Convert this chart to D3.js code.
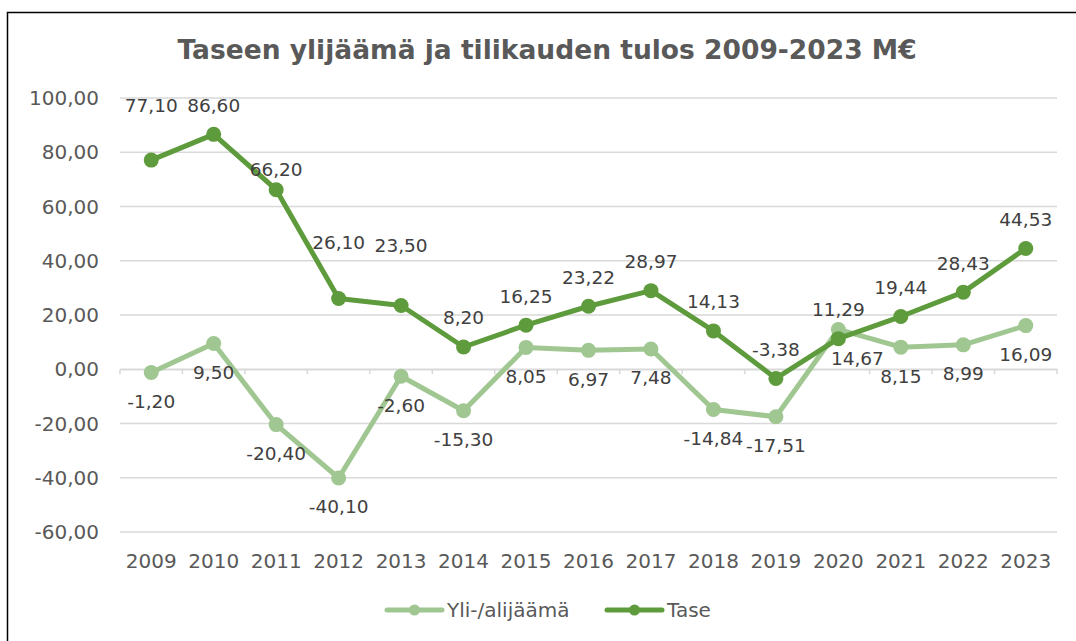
<!DOCTYPE html>
<html>
<head>
<meta charset="utf-8">
<script src="https://cdn.jsdelivr.net/npm/d3@7"></script>
<style>
  body { margin: 0; background: #fff; }
  svg { display: block; font-family: Verdana, "DejaVu Sans", sans-serif; }
</style>
</head>
<body>
<script>
// chart data
const years = ["2009","2010","2011","2012","2013","2014","2015","2016","2017","2018","2019","2020","2021","2022","2023"];
const yliAlijaama = [-1.20, 9.50, -20.40, -40.10, -2.60, -15.30, 8.05, 6.97, 7.48, -14.84, -17.51, 14.67, 8.15, 8.99, 16.09];
const tase = [77.10, 86.60, 66.20, 26.10, 23.50, 8.20, 16.25, 23.22, 28.97, 14.13, -3.38, 11.29, 19.44, 28.43, 44.53];
const yTicks = [-60, -40, -20, 0, 20, 40, 60, 80, 100];
const seriesNames = ["Yli-/alijäämä", "Tase"];

// hand-moved labels in the original (dx, dy in px)
const labelNudge = {
    "Tase-2009": [0, -26],
    "Tase-2011": [0, 9],
    "Tase-2012": [0, -27],
    "Tase-2013": [0, -31],
    "Yli-/alijäämä-2020": [19, 0]
};

const width = 1076, height = 641;
const margin = {left: 120, right: 19, top: 98, bottom: 109};
const colors = {"Yli-/alijäämä": "#a0c792", "Tase": "#5e9b3c"};

const svg = d3.select("body").append("svg")
    .attr("width", width)
    .attr("height", height);

// frame
svg.append("rect")
    .attr("x", 7.5).attr("y", 12.5)
    .attr("width", 1200).attr("height", 800)
    .attr("fill", "none")
    .attr("stroke", "#000")
    .attr("stroke-width", 1.5);

const x = d3.scaleBand()
    .domain(years)
    .range([margin.left, width - margin.right]);

const y = d3.scaleLinear()
    .domain([-60, 100])
    .range([height - margin.bottom, margin.top]);

const fmt = v => d3.format(".2f")(v).replace(".", ",").replace("−", "-");

// title
svg.append("text")
    .attr("x", 547).attr("y", 59)
    .attr("text-anchor", "middle")
    .attr("font-size", 26.5)
    .attr("font-weight", "bold")
    .attr("fill", "#595959")
    .text("Taseen ylijäämä ja tilikauden tulos 2009-2023 M€");

// gridlines
svg.append("g")
    .selectAll("line")
    .data(yTicks)
    .enter()
    .append("line")
    .attr("x1", margin.left).attr("x2", width - margin.right)
    .attr("y1", d => y(d)).attr("y2", d => y(d))
    .attr("stroke", "#d9d9d9")
    .attr("stroke-width", 1.5);

// y labels
svg.append("g")
    .selectAll("text")
    .data(yTicks)
    .enter()
    .append("text")
    .attr("x", 99)
    .attr("y", d => y(d))
    .attr("dy", "0.35em")
    .attr("text-anchor", "end")
    .attr("font-size", 20)
    .attr("fill", "#595959")
    .text(d => fmt(d));

// category axis on the zero line
const xAxis = svg.append("g")
    .attr("transform", `translate(0,${y(0)})`)
    .call(d3.axisBottom(x).tickSize(0).tickFormat(""));
xAxis.select(".domain").attr("stroke", "#d9d9d9").attr("stroke-width", 1.5);
const bounds = years.map(d => x(d)).concat([x.range()[1]]);
xAxis.selectAll(".tickmark")
    .data(bounds)
    .enter()
    .append("line")
    .attr("x1", d => d).attr("x2", d => d)
    .attr("y1", 0).attr("y2", 5)
    .attr("stroke", "#d9d9d9")
    .attr("stroke-width", 1.5);

// year labels at bottom
svg.append("g")
    .selectAll("text")
    .data(years)
    .enter()
    .append("text")
    .attr("x", d => x(d) + x.bandwidth() / 2)
    .attr("y", 568)
    .attr("text-anchor", "middle")
    .attr("font-size", 20)
    .attr("fill", "#595959")
    .text(d => d);

const series = [
    {name: seriesNames[0], values: yliAlijaama, below: true},
    {name: seriesNames[1], values: tase, below: false}
];

const line = d3.line()
    .x((d, i) => x(years[i]) + x.bandwidth() / 2)
    .y(d => y(d));

series.forEach(s => {
    const g = svg.append("g");
    g.append("path")
        .datum(s.values)
        .attr("d", line)
        .attr("fill", "none")
        .attr("stroke", colors[s.name])
        .attr("stroke-width", 5)
        .attr("stroke-linejoin", "round");
    g.selectAll("circle")
        .data(s.values)
        .enter()
        .append("circle")
        .attr("cx", (d, i) => x(years[i]) + x.bandwidth() / 2)
        .attr("cy", d => y(d))
        .attr("r", 7.5)
        .attr("fill", colors[s.name]);
});

// data labels on top
series.forEach(s => {
    svg.append("g")
        .selectAll("text")
        .data(s.values)
        .enter()
        .append("text")
        .attr("x", (d, i) => {
            const n = labelNudge[s.name + "-" + years[i]] || [0, 0];
            return x(years[i]) + x.bandwidth() / 2 + n[0];
        })
        .attr("y", (d, i) => {
            const n = labelNudge[s.name + "-" + years[i]] || [0, 0];
            return y(d) + (s.below ? 29 : -29) + n[1];
        })
        .attr("dy", "0.35em")
        .attr("text-anchor", "middle")
        .attr("font-size", 18.5)
        .attr("fill", "#404040")
        .text(d => fmt(d));
});

// legend
const legendItems = [
    {name: seriesNames[0], x: 387},
    {name: seriesNames[1], x: 607}
];
const lg = svg.append("g").attr("transform", "translate(0,610)");
legendItems.forEach(it => {
    lg.append("line")
        .attr("x1", it.x).attr("x2", it.x + 55)
        .attr("y1", 0).attr("y2", 0)
        .attr("stroke", colors[it.name])
        .attr("stroke-width", 5)
        .attr("stroke-linecap", "round");
    lg.append("circle")
        .attr("cx", it.x + 27.5).attr("cy", 0)
        .attr("r", 5.5)
        .attr("fill", colors[it.name]);
    lg.append("text")
        .attr("x", it.x + 60).attr("y", 0)
        .attr("dy", "0.35em")
        .attr("font-size", 20)
        .attr("fill", "#595959")
        .text(it.name);
});
</script>
</body>
</html>
